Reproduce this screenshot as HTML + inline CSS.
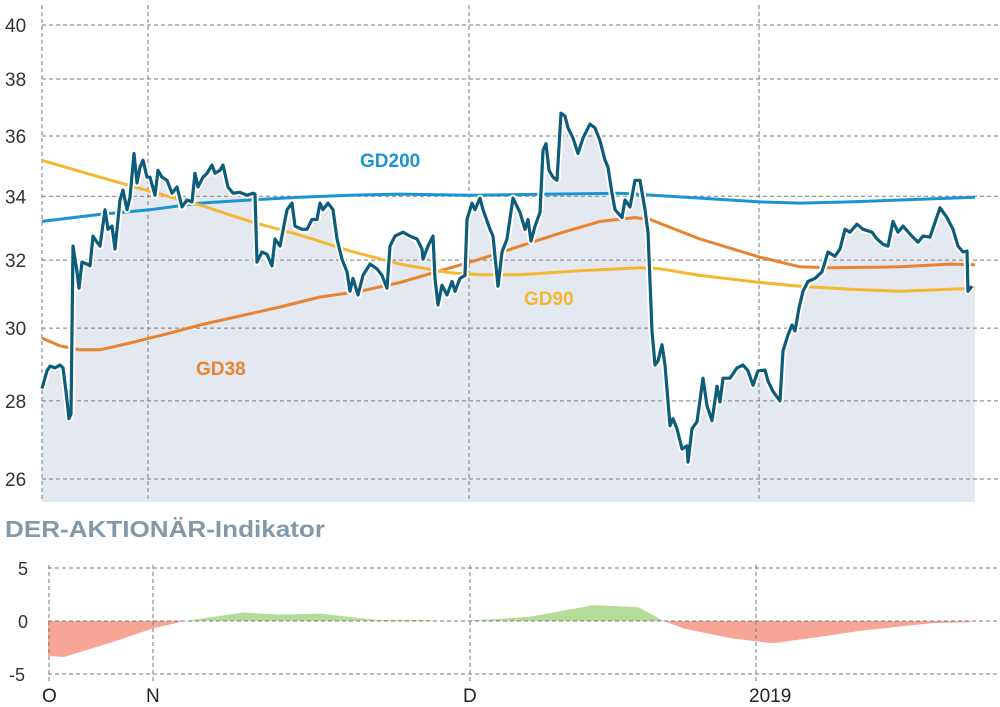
<!DOCTYPE html>
<html><head><meta charset="utf-8"><style>
html,body{margin:0;padding:0;background:#fff;}
svg{display:block;font-family:"Liberation Sans",sans-serif;}
</style></head><body>
<svg id="c" width="1000" height="707" viewBox="0 0 1000 707"></svg>
<script>
const priceT=[0,1,1.6,2.6,3.6,4.2,4.8,5.4,5.8,6.2,7,7.4,8,9,9.6,10.2,11,11.6,12.6,13.2,14,14.6,15.6,16.2,17,17.6,18.4,19,19.6,20.2,21,21.6,22.6,23.2,24,25,26,27,28,29,30,30.6,31.2,32.2,33,34,34.6,35.6,36.2,37.2,38.2,39.6,41,42.2,42.6,43,44,45,46,46.6,47.6,49,50,50.6,52,53,54,55,55.6,56.2,57.2,58.2,59,60,61,61.6,62.2,63.2,64.2,65.6,67,68,69,69.6,70.6,72.2,73.6,75,76,76.2,77.2,78.2,78.6,79.2,80,81,82,82.6,83.6,84.6,85,86,86.6,87.6,88.2,89.6,90.2,91.2,92,93,94.2,95.6,96.6,97.2,97.8,98.6,99.6,100.2,100.8,101.4,102.2,103,103.8,104.6,105.2,106.2,107.2,108.2,109.6,110.6,111.6,112.6,113.2,114,114.6,116,116.6,117.6,118.6,119.6,120.6,121.2,122,122.6,123.2,124,124.6,125.6,126.2,127,128,129,129.2,130,131,132.2,133,134,135,135.6,136.2,137.6,139,140.2,141.2,142.2,143.2,144.6,145.2,146.2,147.6,148.2,149.2,150,150.6,151.4,152.2,153.2,154.6,156,157.2,158.6,159.6,160.6,161.6,163,164.2,166,167,168.2,169.2,170.2,171.2,172.2,173.6,175.2,176.2,177.6,179,179.6,181,182.2,183.2,184.2,185,185.2,186];
const priceV=[28.33,28.81,28.94,28.89,28.97,28.89,28.25,27.53,27.66,32.43,31.65,31.16,31.94,31.88,31.83,32.74,32.55,32.43,33.57,32.95,33.05,32.34,33.88,34.2,33.57,33.97,35.41,34.43,34.95,35.18,34.62,34.62,34.03,34.85,34.62,34.52,34.1,34.3,33.66,33.88,33.82,34.75,34.3,34.62,34.75,35.02,34.75,34.85,35.02,34.3,34.1,34.13,34.03,34.1,34.07,31.94,32.25,32.18,31.83,32.65,32.43,33.57,33.78,33.05,32.95,32.95,33.26,33.26,33.78,33.57,33.78,33.57,32.65,32.03,31.65,31.07,31.45,30.96,31.54,31.88,31.74,31.54,31.16,32.43,32.74,32.86,32.74,32.65,32.34,32.03,32.43,32.74,31.45,30.67,31.25,30.96,31.36,31.07,31.45,31.54,33.26,33.78,33.57,33.94,33.57,32.95,32.74,31.22,32.25,32.65,33.94,33.48,32.95,33.26,32.58,33.05,33.48,35.51,35.74,34.85,34.62,34.52,36.79,36.69,36.28,35.93,35.41,35.93,36.41,36.28,35.84,35.18,34.95,34.1,33.57,33.32,33.88,33.66,34.52,34.52,33.57,32.86,29.92,28.97,29.08,29.53,28.97,27.35,27.53,27.27,26.75,26.83,26.42,27.27,27.45,28.61,27.87,27.48,28.39,27.97,28.61,28.61,28.89,28.97,28.81,28.42,28.81,28.83,28.53,28.25,28.0,29.36,29.81,30.09,29.92,30.58,31.07,31.36,31.45,31.65,32.25,32.12,32.34,32.95,32.86,33.11,32.95,32.86,32.65,32.49,32.43,33.2,32.86,33.05,32.8,32.55,32.74,32.71,33.35,33.63,33.32,32.95,32.43,32.25,32.28,31.07,31.22];
const gd200T=[0,11.6,21.6,31.6,41.6,51.6,61.6,71.6,85.6,101.6,115.6,131.6,143.6,151.6,161.6,171.6,186.6];
const gd200V=[33.2,33.42,33.57,33.78,33.88,33.97,34.03,34.07,34.03,34.07,34.1,33.94,33.82,33.78,33.82,33.88,33.97];
const gd38T=[0,3.6,7.6,11.6,17.6,25.6,31.6,39.6,47.6,55.6,63.6,71.6,79.6,87.6,95.6,103.6,111.6,118.6,121.6,131.6,143.6,151.6,157.6,171.6,181.6,186.6];
const gd38V=[29.72,29.5,29.39,29.39,29.58,29.86,30.09,30.35,30.61,30.9,31.07,31.33,31.68,32.03,32.43,32.83,33.2,33.32,33.26,32.65,32.09,31.8,31.77,31.8,31.88,31.86];
const gd90T=[0,11.6,21.6,31.6,41.6,51.6,61.6,71.6,81.6,87.6,95.6,107.6,119.6,123.6,131.6,143.6,151.6,161.6,171.6,186.6];
const gd90V=[35.18,34.62,34.16,33.72,33.2,32.77,32.28,31.88,31.62,31.56,31.56,31.68,31.77,31.74,31.54,31.33,31.22,31.13,31.07,31.16];
const indT=[0,3.2,12.3,21.2,27.7,39.4,46.9,55,66.5,75.2,79.4,84.5,91.4,97.4,110.3,119.4,124.5,128.5,137.8,146.5,156,164.6,178.8,186.5];
const indV=[-3.3,-3.4,-2.1,-0.7,0,0.8,0.6,0.7,0.1,0.1,0,0.05,0.2,0.4,1.5,1.3,0,-0.7,-1.6,-2.1,-1.5,-0.9,-0.2,-0.1];
const yTicks=[40,38,36,34,32,30,28,26];
const indTicks=[5,0,-5];
const monthLabels=["O","N","D","2019"];

const NS="http://www.w3.org/2000/svg";
const svg=document.getElementById('c');
function mk(tag,attrs,parent){const e=document.createElementNS(NS,tag);for(const k in attrs)e.setAttribute(k,attrs[k]);(parent||svg).appendChild(e);return e;}
const xU=t=>42+t*(933/186.6);
const yU=v=>25+(Math.log(40)-Math.log(v))/(Math.log(40)-Math.log(26))*454;
const xL=t=>48+t*(923/186.6);
const yL=v=>621-v*10.6;
function pathOf(T,V,xs,ys){return T.map((t,i)=>(i?'L':'M')+xs(t).toFixed(1)+' '+ys(V[i]).toFixed(1)).join(' ');}

// price fill
const area=mk('path',{d:pathOf(priceT,priceV,xU,yU)+` L${xU(186.6)} ${yU(priceV[priceV.length-1])} L${xU(186.6)} 502 L${xU(0)} 502 Z`,fill:'#e4e9f1'});



// upper grid
yTicks.forEach(v=>{
  const l=mk('line',{x1:42,x2:1000,y1:yU(v),y2:yU(v),stroke:'#7a7a7a','stroke-width':1,'stroke-dasharray':'4 3'});
  
  
  const tx=mk('text',{x:5,y:yU(v)+7,'font-size':19,fill:'#333'});tx.textContent=v;
  
  
});
[42,148,469,759].forEach(x=>{
  const l=mk('line',{x1:x,x2:x,y1:5,y2:502,stroke:'#7a7a7a','stroke-width':1,'stroke-dasharray':'4 3'});
  
  
});

// moving averages
[[gd200T,gd200V,'#1b95d2','gd200-line'],[gd38T,gd38V,'#e8832f','gd38-line'],[gd90T,gd90V,'#f4b731','gd90-line']].forEach(s=>{
  const p=mk('path',{d:pathOf(s[0],s[1],xU,yU),fill:'none',stroke:s[2],'stroke-width':3,'stroke-linejoin':'round'});
  
  
});
// price line with halo
const halo=mk('path',{d:pathOf(priceT,priceV,xU,yU),fill:'none',stroke:'#fff','stroke-width':7,'stroke-linejoin':'round'});


const pl=mk('path',{d:pathOf(priceT,priceV,xU,yU),fill:'none',stroke:'#0d5c7a','stroke-width':3.2,'stroke-linejoin':'round'});



// labels
[["GD200",360,167,'#1b95d2','gd200-label'],["GD90",524,305,'#f4b731','gd90-label'],["GD38",196,375,'#e8832f','gd38-label']].forEach(a=>{
  const t=mk('text',{x:a[1],y:a[2],'font-size':19,'font-weight':'bold',fill:a[3]});t.textContent=a[0];
  
  
});

// indicator title
const title=mk('text',{x:5,y:537,'font-size':23,'font-weight':'bold',fill:'#8398a8',textLength:320,lengthAdjust:'spacingAndGlyphs'});
title.textContent="DER-AKTIONÄR-Indikator";



// indicator area
const defs=mk('defs',{});
const cp1=mk('clipPath',{id:'above'},defs);mk('rect',{x:0,y:0,width:1000,height:yL(0)},cp1);
const cp2=mk('clipPath',{id:'below'},defs);mk('rect',{x:0,y:yL(0),width:1000,height:200},cp2);
const indD=pathOf(indT,indV,xL,yL)+` L${xL(indT[indT.length-1])} ${yL(0)} L${xL(0)} ${yL(0)} Z`;
const pos=mk('path',{d:indD,fill:'#b5dc98','clip-path':'url(#above)'});


const neg=mk('path',{d:indD,fill:'#f7a595','clip-path':'url(#below)'});



indTicks.forEach(v=>{
  const l=mk('line',{x1:48,x2:1000,y1:yL(v),y2:yL(v),stroke:'#7a7a7a','stroke-width':1,'stroke-dasharray':'4 3'});
  
  
  const tx=mk('text',{x:v<0?9:18,y:yL(v)+7,'font-size':18,fill:'#333'});tx.textContent=v;
  
  
});
const mx=[49,153,470,756];
mx.forEach((x,i)=>{
  const l=mk('line',{x1:x,x2:x,y1:565,y2:682,stroke:'#7a7a7a','stroke-width':1,'stroke-dasharray':'4 3'});
  
  
  const tx=mk('text',{x:x-7,y:702,'font-size':19,fill:'#222'});tx.textContent=monthLabels[i];
  
  
});
</script>
</body></html>
